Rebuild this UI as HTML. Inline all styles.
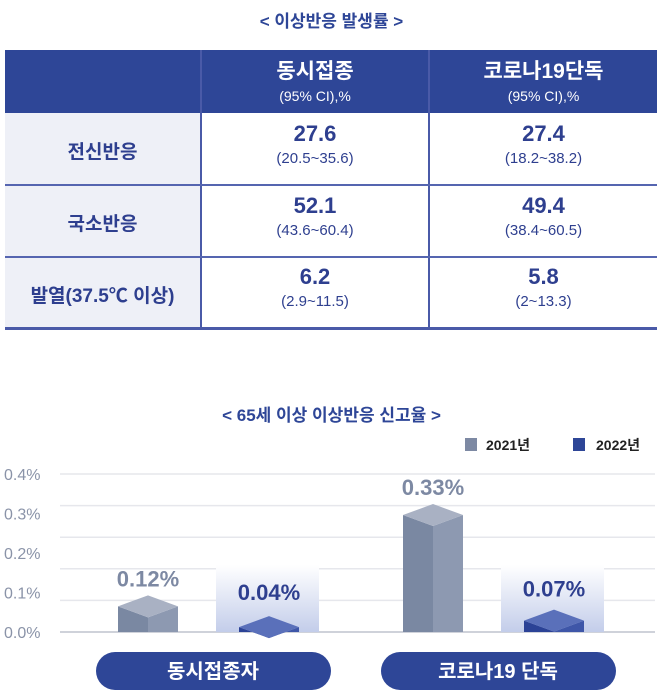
<!DOCTYPE html>
<html><head><meta charset="utf-8">
<style>
body{margin:0;width:663px;height:699px;background:#fff;font-family:"Liberation Sans","Noto Sans CJK KR",sans-serif;overflow:hidden;position:relative}
.abs{position:absolute}
.t{color:#2e3f8f;text-align:center}
</style></head><body>
<div class="abs t" style="left:0;top:7px;width:663px;font-size:17px;font-weight:bold;color:#2e4697">&lt; 이상반응 발생률 &gt;</div>

<div class="abs" style="left:5px;top:50px;width:652px;height:280px">
  <div class="abs" style="left:0;top:0;width:652px;height:63px;background:#2e4697"></div>
  <div class="abs" style="left:0;top:63px;width:195px;height:216px;background:#eef0f7"></div>
  <div class="abs" style="left:195px;top:0;width:2px;height:279px;background:#4a5aa8"></div>
  <div class="abs" style="left:423px;top:0;width:2px;height:279px;background:#4a5aa8"></div>
  <div class="abs" style="left:0;top:134px;width:652px;height:2px;background:#5565b0"></div>
  <div class="abs" style="left:0;top:206px;width:652px;height:2px;background:#5565b0"></div>
  <div class="abs" style="left:0;top:277px;width:652px;height:3px;background:#4a5aa8"></div>

  <div class="abs" style="left:197px;top:5px;width:226px;text-align:center;color:#fff"><div style="font-size:21px;font-weight:bold">동시접종</div><div style="font-size:14px;margin-top:3px">(95% CI),%</div></div>
  <div class="abs" style="left:425px;top:5px;width:227px;text-align:center;color:#fff"><div style="font-size:21px;font-weight:bold">코로나19단독</div><div style="font-size:14px;margin-top:3px">(95% CI),%</div></div>

  <div class="abs t" style="left:0;top:87px;width:195px;font-size:19px;font-weight:bold">전신반응</div>
  <div class="abs t" style="left:0;top:159px;width:195px;font-size:19px;font-weight:bold">국소반응</div>
  <div class="abs t" style="left:0;top:231px;width:195px;font-size:19px;font-weight:bold">발열(37.5℃ 이상)</div>

  <div class="abs t" style="left:197px;top:71px;width:226px"><div style="font-size:22px;font-weight:bold">27.6</div><div style="font-size:15px;margin-top:3px">(20.5~35.6)</div></div>
  <div class="abs t" style="left:425px;top:71px;width:227px"><div style="font-size:22px;font-weight:bold">27.4</div><div style="font-size:15px;margin-top:3px">(18.2~38.2)</div></div>
  <div class="abs t" style="left:197px;top:143px;width:226px"><div style="font-size:22px;font-weight:bold">52.1</div><div style="font-size:15px;margin-top:3px">(43.6~60.4)</div></div>
  <div class="abs t" style="left:425px;top:143px;width:227px"><div style="font-size:22px;font-weight:bold">49.4</div><div style="font-size:15px;margin-top:3px">(38.4~60.5)</div></div>
  <div class="abs t" style="left:197px;top:214px;width:226px"><div style="font-size:22px;font-weight:bold">6.2</div><div style="font-size:15px;margin-top:3px">(2.9~11.5)</div></div>
  <div class="abs t" style="left:425px;top:214px;width:227px"><div style="font-size:22px;font-weight:bold">5.8</div><div style="font-size:15px;margin-top:3px">(2~13.3)</div></div>
</div>

<div class="abs t" style="left:0;top:401px;width:663px;font-size:17px;font-weight:bold;color:#2e4697">&lt; 65세 이상 이상반응 신고율 &gt;</div>

<svg class="abs" style="left:0;top:0" width="663" height="699" id="chart">
<defs>
<linearGradient id="hl" x1="0" y1="0" x2="0" y2="1"><stop offset="0" stop-color="#ffffff"/><stop offset="1" stop-color="#c3cdea"/></linearGradient>
</defs>
</svg>

<script>
const categories = ["동시접종자", "코로나19 단독"];
const series2021 = [0.12, 0.33];
const series2022 = [0.04, 0.07];
const labels2021 = ["0.12%", "0.33%"];
const labels2022 = ["0.04%", "0.07%"];
const yTicks = [0.4, 0.3, 0.2, 0.1, 0.0];
const yTickLabels = ["0.4%", "0.3%", "0.2%", "0.1%", "0.0%"];

const NS = "http://www.w3.org/2000/svg";
const svg = document.getElementById("chart");
const baseY = 632, topY = 474;
function yLab(v){ return baseY - v/0.4*(baseY-topY); }
function yBar(v){ return baseY - 617*Math.pow(Math.max(v,0),1.5); }
function groupX(i){ return [118, 403][i]; }
function mk(tag, attrs){ const e=document.createElementNS(NS,tag); for(const k in attrs) e.setAttribute(k,attrs[k]); svg.appendChild(e); return e; }

for(let i=0;i<=5;i++){
  const g=mk("line",{x1:60,x2:655,y1:topY+i*(baseY-topY)/5,y2:topY+i*(baseY-topY)/5,stroke:i==5?"#cfd2da":"#e6e7ec","stroke-width":i==5?2:1.5});
  
  
}
yTicks.forEach((v,i)=>{
  const t=mk("text",{x:4,y:yLab(v)+6,"font-size":16,fill:"#8a93a8","font-family":"Liberation Sans, sans-serif"});
  t.textContent=yTickLabels[i];
  
  
});

function bar(x, v, cols, name){
  const w=60, xc=x+w/2, top=yBar(v), ap=11;
  const l=mk("polygon",{points:`${x},${top} ${xc},${top+ap} ${xc},${baseY} ${x},${baseY}`,fill:cols[0]});
  
  
  mk("polygon",{points:`${xc},${top+ap} ${x+w},${top} ${x+w},${baseY} ${xc},${baseY}`,fill:cols[1]});
  mk("polygon",{points:`${x},${top} ${xc},${top-ap} ${x+w},${top} ${xc},${top+ap}`,fill:cols[2]});
}

categories.forEach((c,i)=>{
  const gx=groupX(i);
  const hl=mk("rect",{x:gx+98,y:565,width:103,height:baseY-565,fill:"url(#hl)"});
  
  
});
categories.forEach((c,i)=>{
  const gx=groupX(i);
  bar(gx, series2021[i], ["#7a88a2","#8d99b1","#a9b1c3"], "bar-2021-"+i);
  bar(gx+121, series2022[i], ["#2b4296","#3e56a8","#5a70ba"], "bar-2022-"+i);
  const t1=mk("text",{x:gx+30,y:yBar(series2021[i])-20,"text-anchor":"middle","font-size":22,"font-weight":"bold",fill:"#7d89a3","font-family":"Liberation Sans, sans-serif"});
  t1.textContent=labels2021[i];
  
  
  const t2=mk("text",{x:gx+151,y:Math.min(yBar(series2022[i])-24,600),"text-anchor":"middle","font-size":22,"font-weight":"bold",fill:"#2e3f8f","font-family":"Liberation Sans, sans-serif"});
  t2.textContent=labels2022[i];
  
  
  const p=mk("rect",{x:gx-22,y:652,width:235,height:38,rx:19,fill:"#2e4697"});
  
  
  const pt=mk("text",{x:gx+95,y:678,"text-anchor":"middle","font-size":20,"font-weight":"bold",fill:"#fff","font-family":"Liberation Sans, Noto Sans CJK KR, sans-serif"});
  pt.textContent=c;
  
  
});

const lg1=mk("rect",{x:465,y:438,width:12,height:13,fill:"#7d89a3"});


const lt1=mk("text",{x:486,y:450,"font-size":14,"font-weight":"bold",fill:"#222","font-family":"Liberation Sans, Noto Sans CJK KR, sans-serif"});
lt1.textContent="2021년";


const lg2=mk("rect",{x:573,y:438,width:12,height:13,fill:"#2e4697"});


const lt2=mk("text",{x:596,y:450,"font-size":14,"font-weight":"bold",fill:"#222","font-family":"Liberation Sans, Noto Sans CJK KR, sans-serif"});
lt2.textContent="2022년";


</script>
</body></html>
